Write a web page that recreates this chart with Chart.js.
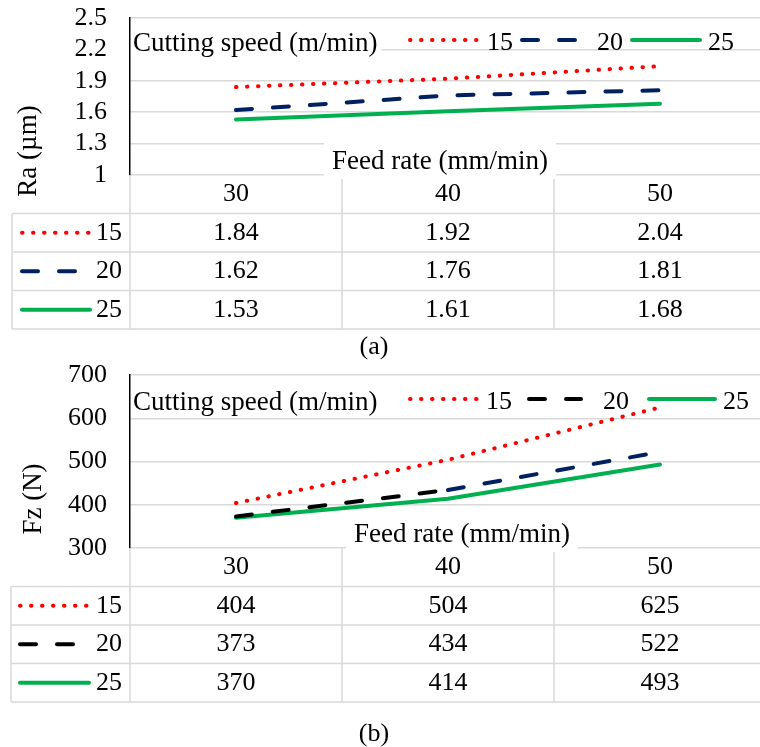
<!DOCTYPE html>
<html>
<head>
<meta charset="utf-8">
<script src="https://cdn.jsdelivr.net/npm/chart.js@4.4.1/dist/chart.umd.min.js"></script>
<style>
  html, body { margin: 0; padding: 0; background: #fff; overflow: hidden; width: 760px; height: 747px; }
  canvas { position: absolute; left: 0; }
  #raChart { top: 0; }
  #fzChart { top: 340px; }
</style>
</head>
<body>
<canvas id="raChart" width="766" height="370"></canvas>
<canvas id="fzChart" width="766" height="407"></canvas>
<script>
// data
const feedRates = ['30', '40', '50'];
const speeds = ['15', '20', '25'];
const ra15 = [1.84, 1.92, 2.04];
const ra20 = [1.62, 1.76, 1.81];
const ra25 = [1.53, 1.61, 1.68];
const fz15 = [404, 504, 625];
const fz20 = [373, 434, 522];
const fz25 = [370, 414, 493];
const raTicks = [1, 1.3, 1.6, 1.9, 2.2, 2.5];
const fzTicks = [300, 400, 500, 600, 700];

const serif = "'Liberation Serif', 'Times New Roman', serif";
Chart.defaults.font.family = serif;
Chart.defaults.color = '#000';

const RED = '#ff0000', NAVY = '#002060', GREEN = '#00b050';
const dotted = [0.5, 10.5];
const dashed = [16, 21];

function strokeKey(ctx, ds, x0, x1, y) {
  ctx.save();
  ctx.strokeStyle = ds.keyColor || ds.borderColor;
  ctx.lineWidth = ds.borderWidth;
  ctx.lineCap = 'round';
  ctx.setLineDash(ds.borderDash || []);
  ctx.beginPath();
  ctx.moveTo(x0, y);
  ctx.lineTo(x1, y);
  ctx.stroke();
  ctx.restore();
}

// legend, axis titles and the data table under each plot
const panelPlugin = {
  id: 'panel',
  afterDraw(chart, args, opts) {
    const ctx = chart.ctx;
    const area = chart.chartArea;
    const xs = chart.scales.x;
    const sets = chart.data.datasets;
    const labels = chart.data.labels;
    const step = xs.getPixelForValue(1) - xs.getPixelForValue(0);
    const rowH = 38.5;
    const edges = labels.map((l, i) => xs.getPixelForValue(i) - step / 2);
    edges.push(edges[edges.length - 1] + step);
    const tTop = area.bottom;
    const tBot = tTop + rowH * (sets.length + 1);
    const numFont = '26px ' + serif;
    const titleFont = '27px ' + serif;

    ctx.save();
    ctx.strokeStyle = '#d9d9d9';
    ctx.lineWidth = 1.5;
    ctx.beginPath();
    for (let k = 1; k <= sets.length + 1; k++) {
      const y = tTop + rowH * k;
      ctx.moveTo(opts.tableLeft, y);
      ctx.lineTo(edges[edges.length - 1], y);
    }
    edges.forEach(x => { ctx.moveTo(x, tTop); ctx.lineTo(x, tBot); });
    ctx.moveTo(opts.tableLeft, tTop + rowH);
    ctx.lineTo(opts.tableLeft, tBot);
    ctx.stroke();

    // x axis title box
    ctx.font = titleFont;
    const fx = xs.getPixelForValue(1) + opts.feedDx;
    const fw = ctx.measureText(opts.xTitle).width + 16;
    ctx.fillStyle = '#fff';
    ctx.fillRect(fx - fw / 2, area.bottom - 35, fw, 39);
    ctx.fillStyle = '#000';
    ctx.textAlign = 'center';
    ctx.textBaseline = 'middle';
    ctx.fillText(opts.xTitle, fx, area.bottom - 13);

    // table text
    ctx.font = numFont;
    labels.forEach((l, i) => ctx.fillText(l, xs.getPixelForValue(i), tTop + rowH / 2));
    sets.forEach((ds, r) => {
      const cy = tTop + rowH * (r + 1.5);
      strokeKey(ctx, ds, opts.keys[r][0], opts.keys[r][1], cy);
      ctx.fillStyle = '#000';
      ctx.textAlign = 'right';
      ctx.fillText(ds.label, 122, cy);
      ctx.textAlign = 'center';
      ds.data.forEach((v, i) => ctx.fillText(opts.fmt(v), xs.getPixelForValue(i), cy));
    });

    // legend
    const ly = area.top + opts.legendDy;
    ctx.font = titleFont;
    ctx.textAlign = 'left';
    ctx.textBaseline = 'alphabetic';
    const tw = ctx.measureText(opts.legendTitle).width;
    ctx.fillStyle = '#fff';
    ctx.fillRect(area.left + 1, ly - 13, tw + 6, 28);
    ctx.fillStyle = '#000';
    ctx.fillText(opts.legendTitle, area.left + 3, ly + 11);
    ctx.font = numFont;
    sets.forEach((ds, i) => {
      const it = opts.legendItems[i];
      strokeKey(ctx, ds, it[0], it[1], ly);
      ctx.fillStyle = '#000';
      ctx.fillText(ds.label, it[2], ly + 10);
    });

    // y axis title
    ctx.font = titleFont;
    ctx.save();
    ctx.translate(opts.yTitleX, opts.yTitleY);
    ctx.rotate(-Math.PI / 2);
    ctx.textAlign = 'center';
    ctx.textBaseline = 'middle';
    ctx.fillText(opts.yTitle, 0, 0);
    ctx.restore();

    // caption
    ctx.font = numFont;
    ctx.textAlign = 'center';
    ctx.textBaseline = 'middle';
    ctx.fillText(opts.caption, 374, opts.captionY);
    ctx.restore();
  }
};

function lineSet(label, data, color, dash, extra) {
  return Object.assign({
    label: label, data: data,
    borderColor: color, backgroundColor: color,
    borderWidth: 4, borderDash: dash,
    borderCapStyle: 'round', borderJoinStyle: 'round',
    pointRadius: 0, tension: 0, fill: false
  }, extra || {});
}

function yScale(ticks) {
  return {
    min: ticks[0],
    max: ticks[ticks.length - 1],
    afterBuildTicks: s => { s.ticks = ticks.map(v => ({ value: v })); },
    afterFit: s => { s.width = 130; },
    // invisible tick marks give the gap between labels and axis
    grid: { color: '#d9d9d9', lineWidth: 1.5, drawTicks: true, tickLength: 23, tickColor: 'rgba(0,0,0,0)' },
    border: { color: '#000', width: 1.5 },
    ticks: { padding: 0, autoSkip: false, color: '#000', font: { size: 26 }, callback: v => String(v) }
  };
}

function baseOptions(ticks, padTop, padBottom, panel) {
  return {
    responsive: false,
    animation: false,
    devicePixelRatio: 1,
    events: [],
    layout: { padding: { left: 0, right: 0, top: padTop, bottom: padBottom } },
    scales: {
      x: { type: 'category', display: false, offset: true },
      y: yScale(ticks)
    },
    plugins: {
      legend: { display: false },
      tooltip: { enabled: false },
      panel: panel
    }
  };
}

const raChart = new Chart(document.getElementById('raChart'), {
  type: 'line',
  data: {
    labels: feedRates,
    datasets: [
      lineSet(speeds[0], ra15, RED, dotted),
      lineSet(speeds[1], ra20, NAVY, dashed),
      lineSet(speeds[2], ra25, GREEN, [])
    ]
  },
  options: baseOptions(raTicks, 18, 195, {
    xTitle: 'Feed rate (mm/min)', feedDx: -8,
    yTitle: 'Ra (µm)', yTitleX: 29, yTitleY: 151,
    legendTitle: 'Cutting speed (m/min)', legendDy: 22,
    legendItems: [[410, 478, 487], [522, 575, 597], [632, 700, 708]],
    tableLeft: 12,
    keys: [[22, 89], [22, 76], [22, 90]],
    fmt: v => v.toFixed(2),
    caption: '(a)', captionY: 347
  }),
  plugins: [panelPlugin]
});

const fzChart = new Chart(document.getElementById('fzChart'), {
  type: 'line',
  data: {
    labels: feedRates,
    datasets: [
      lineSet(speeds[0], fz15, RED, dotted),
      // first segment black, second navy, as in the figure
      lineSet(speeds[1], fz20, '#000000', dashed, {
        keyColor: '#000000',
        segment: { borderColor: c => c.p0DataIndex === 0 ? '#000000' : NAVY }
      }),
      lineSet(speeds[2], fz25, GREEN, [])
    ]
  },
  options: baseOptions(fzTicks, 35, 199, {
    xTitle: 'Feed rate (mm/min)', feedDx: 14,
    yTitle: 'Fz (N)', yTitleX: 34, yTitleY: 159,
    legendTitle: 'Cutting speed (m/min)', legendDy: 24,
    legendItems: [[410, 478, 486], [529, 581, 603], [649, 715, 723]],
    tableLeft: 11,
    keys: [[20, 89], [20, 77], [20, 89]],
    fmt: v => String(v),
    caption: '(b)', captionY: 394
  }),
  plugins: [panelPlugin]
});
</script>
</body>
</html>
